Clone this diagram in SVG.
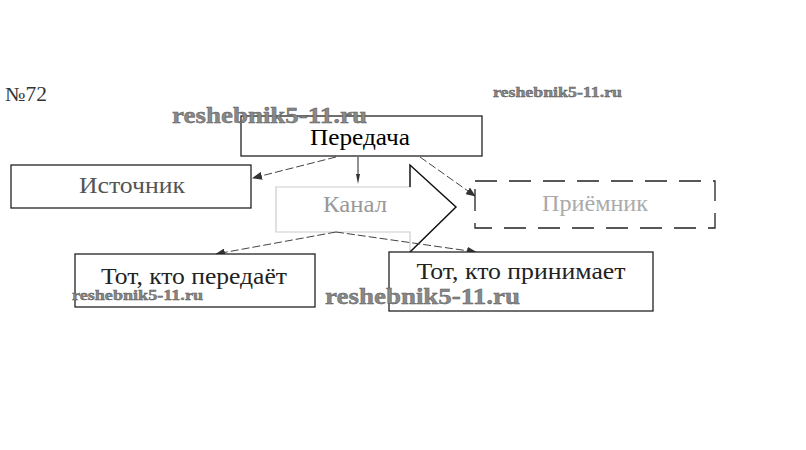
<svg xmlns="http://www.w3.org/2000/svg" width="806" height="450" viewBox="0 0 806 450">
<style>
.t{font-family:"Liberation Serif","Times New Roman",serif;font-size:24px;text-anchor:middle}
.wm{font-family:"Liberation Serif","Times New Roman",serif;font-weight:bold;fill:#888;stroke:#555;stroke-width:0.4}
.box{fill:#fff;stroke:#222;stroke-width:1.3}
.dash{fill:#fff;stroke:#222;stroke-width:1.3;stroke-dasharray:22 12}
.conn{fill:none;stroke:#444;stroke-width:1;stroke-dasharray:8 3}
</style>
<defs>
<marker id="ah" markerWidth="10" markerHeight="8" refX="9" refY="4" orient="auto" markerUnits="userSpaceOnUse">
<path d="M0,0 L10,4 L0,8 z" fill="#333"/>
</marker>
<marker id="tee" markerWidth="10" markerHeight="6" refX="5" refY="3" orient="auto" markerUnits="userSpaceOnUse">
<path d="M0,1 L10,3 L0,5 z" fill="#333"/>
</marker>
</defs>
<rect width="806" height="450" fill="#fff"/>
<text x="5" y="101" font-family="Liberation Serif, serif" font-size="20" fill="#333" textLength="42" lengthAdjust="spacingAndGlyphs">№72</text>

<g id="kanal">
<path d="M276,187 L410,187 L410,165 L456,207 L410,252 L410,232 L276,232 Z" fill="#fff" stroke="#ccc" stroke-width="1.2"/>
<path d="M410,187 L410,165 L456,207 L410,252" fill="none" stroke="#111" stroke-width="1.4"/>
<text class="t" x="355" y="212" fill="#999" textLength="64" lengthAdjust="spacingAndGlyphs">Канал</text>
</g>

<g id="connectors">
<line class="conn" x1="336" y1="157" x2="253" y2="178" marker-end="url(#ah)"/>
<line x1="358" y1="157" x2="358" y2="179" stroke="#222" stroke-width="1" marker-end="url(#tee)"/>
<line class="conn" x1="420" y1="157" x2="475" y2="196" marker-end="url(#ah)"/>
<line class="conn" x1="336" y1="232" x2="216" y2="254" marker-end="url(#ah)"/>
<line class="conn" x1="336" y1="232" x2="476" y2="252" marker-end="url(#ah)"/>
</g>

<g id="peredacha">
<rect class="box" x="241" y="116" width="241" height="40"/>
<text class="t" x="360" y="145" fill="#000" textLength="100" lengthAdjust="spacingAndGlyphs">Передача</text>
</g>

<g id="istochnik">
<rect class="box" x="11" y="165" width="240" height="43"/>
<text class="t" x="132" y="193" fill="#555" textLength="106" lengthAdjust="spacingAndGlyphs">Источник</text>
</g>

<g id="priemnik">
<rect class="dash" x="475" y="181" width="240" height="47"/>
<text class="t" x="595" y="211" fill="#aaa" textLength="106" lengthAdjust="spacingAndGlyphs">Приёмник</text>
</g>

<g id="peredaet">
<rect class="box" x="75" y="254" width="240" height="53"/>
<text class="t" x="194" y="284" fill="#222" textLength="186" lengthAdjust="spacingAndGlyphs">Тот, кто передаёт</text>
</g>

<g id="prinimaet">
<rect class="box" x="389" y="252" width="264" height="59"/>
<text class="t" x="521" y="279" fill="#222" textLength="209" lengthAdjust="spacingAndGlyphs">Тот, кто принимает</text>
</g>

<text class="wm" x="172" y="123" font-size="24" textLength="195" lengthAdjust="spacingAndGlyphs">reshebnik5-11.ru</text>
<text class="wm" x="493" y="97" font-size="14" textLength="129" lengthAdjust="spacingAndGlyphs">reshebnik5-11.ru</text>
<text class="wm" x="72" y="300" font-size="14" textLength="131" lengthAdjust="spacingAndGlyphs">reshebnik5-11.ru</text>
<text class="wm" x="325" y="304" font-size="24" textLength="195" lengthAdjust="spacingAndGlyphs">reshebnik5-11.ru</text>
</svg>
